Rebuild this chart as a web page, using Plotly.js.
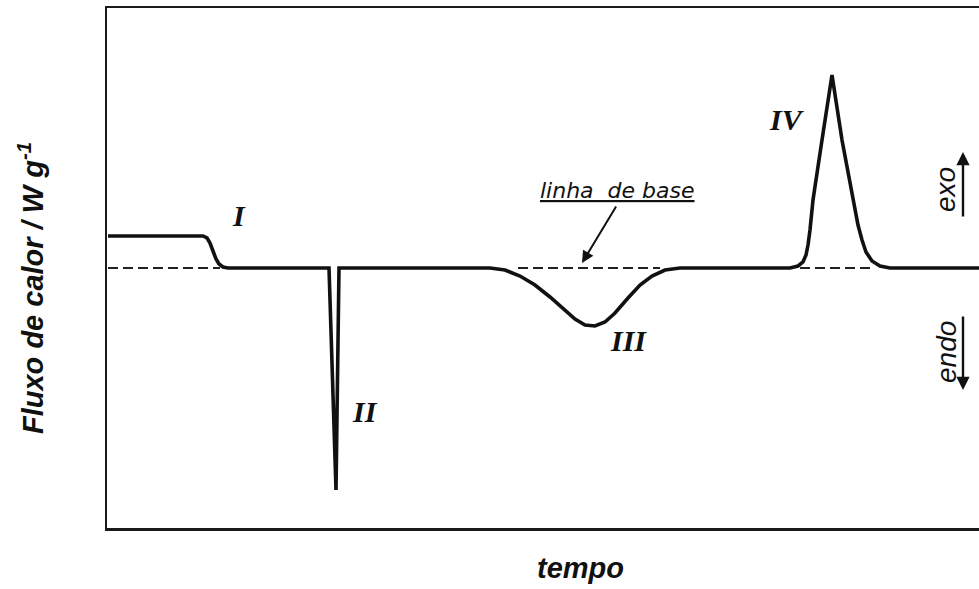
<!DOCTYPE html>
<html>
<head>
<meta charset="utf-8">
<script src="https://cdn.plot.ly/plotly-3.0.1.min.js"></script>
<style>
  html, body { margin: 0; padding: 0; background: #fff; }
  #dsc-chart { width: 979px; height: 589px; }
</style>
</head>
<body>
<div id="dsc-chart"></div>
<script>
// DSC curve (arbitrary units, baseline = 0)
var tempo = [1, 96, 100, 103, 106, 109, 112, 116, 121,
    222, 229, 232,
    383, 398, 413, 428, 443, 458, 468, 478, 488, 498, 508, 521, 533, 545, 558, 573,
    683, 691, 696, 699, 701, 703, 706, 715, 725, 735, 746, 751, 755, 759, 765, 773, 783, 872];
var fluxo = [32, 32, 30, 25, 17, 9, 4, 1, 0,
    0, -222, 0,
    0, -2, -8, -17, -29, -42, -51, -57, -58, -54, -45, -30, -17, -8, -2, 0,
    0, 2, 6, 13, 23, 38, 68, 128, 193, 128, 68, 43, 28, 16, 7, 2, 0, 0];

// dashed baseline segments under events I, III and IV
var baseX = [1, 113, null, 411, 553, null, 693, 766];
var baseY = [0, 0, null, 0, 0, null, 0, 0];

var eventos = ['I', 'II', 'III', 'IV'];
var eventoX = [132, 258, 521, 680];
var eventoY = [53, -143, -72, 149];

var curva = {
    x: tempo,
    y: fluxo,
    type: 'scatter',
    mode: 'lines',
    line: {color: '#111', width: 3.6, shape: 'linear'},
    hoverinfo: 'skip'
};

var linhaBase = {
    x: baseX,
    y: baseY,
    type: 'scatter',
    mode: 'lines',
    connectgaps: false,
    line: {color: '#222', width: 2.2, dash: '10px,5px'},
    hoverinfo: 'skip'
};

var annots = eventos.map(function(e, i) {
    return {
        x: eventoX[i], y: eventoY[i], xref: 'x', yref: 'y',
        text: '<b><i>' + e + '</i></b>', showarrow: false,
        font: {family: 'Liberation Serif', size: 30, color: '#111'}
    };
});

annots.push(
    {x: 510, y: 78, xref: 'x', yref: 'y', text: '<i><u>linha  de base</u></i>', showarrow: false,
     font: {family: 'DejaVu Sans', size: 22, color: '#111'}},
    {x: 475, y: 5, xref: 'x', yref: 'y', ax: 510, ay: 63, axref: 'x', ayref: 'y', text: '',
     showarrow: true, arrowhead: 2, arrowsize: 1.2, arrowwidth: 2, arrowcolor: '#111'},
    {x: 838, y: 78, xref: 'x', yref: 'y', text: '<i>exo</i>', textangle: -90, showarrow: false,
     font: {family: 'Liberation Sans', size: 28, color: '#111'}},
    {x: 856, y: 116, xref: 'x', yref: 'y', ax: 856, ay: 50, axref: 'x', ayref: 'y', text: '',
     showarrow: true, arrowhead: 2, arrowsize: 1.1, arrowwidth: 2.4, arrowcolor: '#111'},
    {x: 839, y: -84, xref: 'x', yref: 'y', text: '<i>endo</i>', textangle: -90, showarrow: false,
     font: {family: 'Liberation Sans', size: 28, color: '#111'}},
    {x: 856, y: -122, xref: 'x', yref: 'y', ax: 856, ay: -47, axref: 'x', ayref: 'y', text: '',
     showarrow: true, arrowhead: 2, arrowsize: 1.1, arrowwidth: 2.4, arrowcolor: '#111'},
    // axis titles, placed in paper units from the plot frame (107..979, 8..528)
    {x: (580 - 107) / 872, y: (528 - 568) / 520, xref: 'paper', yref: 'paper',
     xanchor: 'center', yanchor: 'middle',
     text: '<b><i>tempo</i></b>', showarrow: false,
     font: {family: 'Liberation Sans', size: 29, color: '#111'}},
    {x: (31 - 107) / 872, y: (528 - 288) / 520, xref: 'paper', yref: 'paper',
     xanchor: 'center', yanchor: 'middle',
     text: '<b><i>Fluxo de calor / W g<sup>-1</sup></i></b>', textangle: -90, showarrow: false,
     font: {family: 'Liberation Sans', size: 29, color: '#111'}}
);

var layout = {
    width: 979,
    height: 589,
    margin: {l: 107, r: 0, t: 8, b: 61},
    showlegend: false,
    paper_bgcolor: '#fff',
    plot_bgcolor: '#fff',
    xaxis: {range: [0, 872], showgrid: false, zeroline: false, showticklabels: false, ticks: '',
            showline: true, mirror: true, linecolor: '#1a1a1a', linewidth: 2.5, fixedrange: true},
    yaxis: {range: [-260, 260], showgrid: false, zeroline: false, showticklabels: false, ticks: '',
            showline: true, mirror: false, linecolor: '#1a1a1a', linewidth: 2.5, fixedrange: true},
    annotations: annots
};

Plotly.newPlot('dsc-chart', [linhaBase, curva], layout, {displayModeBar: false, staticPlot: true});
</script>
</body>
</html>
